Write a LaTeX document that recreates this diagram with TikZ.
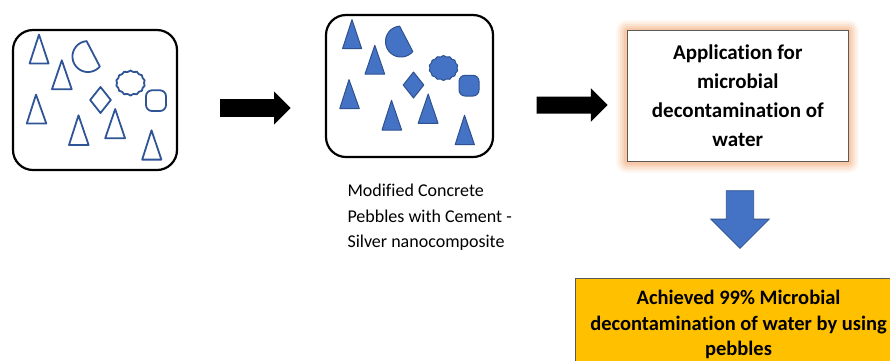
\documentclass[tikz,border=0pt]{standalone}
\usepackage{fontspec}
\setmainfont{Carlito}[Ligatures=NoCommon]
\usetikzlibrary{shapes.symbols,shapes.arrows,backgrounds}
\definecolor{pblue}{HTML}{4472C4}
\definecolor{pbluedark}{HTML}{2F528F}
\definecolor{poutline}{HTML}{2F5597}
\definecolor{glowcol}{HTML}{F4B183}
\definecolor{goldfill}{HTML}{FFC000}
\definecolor{boxgray}{HTML}{595959}
\tikzset{
  pebblebox/.style={draw=black, line width=2.2pt, rounded corners=20pt, fill=white, inner sep=0pt, outer sep=0pt},
  outlined/.style={draw=poutline, line width=1.8pt, fill=white, line join=round},
  filledblue/.style={draw=pbluedark, line width=1pt, fill=pblue, line join=round},
  blockarrow/.style={single arrow, single arrow head indent=0pt, inner xsep=0pt, outer sep=0pt, anchor=tail},
  pics/pebbles/.style={code={
    \tikzset{pebshape/.style={#1}}
    \path[pebshape] (26,4.6) -- (35.6,33.5) -- (16.6,33.5) -- cycle;
    \path[pebshape] (48.8,30.3) -- (58.7,59.2) -- (39,59.2) -- cycle;
    \path[pebshape] (23,64.6) -- (33.3,93.5) -- (13.8,93.5) -- cycle;
    \path[pebshape] (65.5,85.3) -- (75.6,115) -- (56,115) -- cycle;
    \path[pebshape] (102.2,79) -- (112,108.3) -- (92.2,108.3) -- cycle;
    \path[pebshape] (138.5,100.3) -- (148.4,129.6) -- (129.2,129.6) -- cycle;
    \path[pebshape] (73.6,11.1) arc[start angle=95, end angle=320, radius=15.5pt] -- cycle;
    \path[pebshape] (87.5,57) -- (97.8,70) -- (87.5,83) -- (77.2,70) -- cycle;
    \path[pebshape, rounded corners=6pt] (133,60.3) rectangle (153,81);
    \node[pebshape, cloud, cloud puffs=14, cloud puff arc=110, aspect=1.1, minimum width=29pt, minimum height=25pt, inner sep=0pt] at (117.5,53) {};
  }}
}
\begin{document}
\begin{tikzpicture}[x=1pt,y=-1pt]
\useasboundingbox (0,0) rectangle (890,360);
\clip (0,0) rectangle (890,360);

% pebble boxes
\node[pebblebox, minimum width=164pt, minimum height=140pt] (box1) at (95,100) {};
\pic at (box1.north west) {pebbles=outlined};
\node[pebblebox, minimum width=167pt, minimum height=142pt] (box2) at (409.5,86) {};
\pic at (box2.north west) {pebbles=filledblue};

% caption
\node[anchor=north west, align=left, inner sep=0pt, font=\fontsize{18}{25.3}\selectfont] (cap) at (347.3,184) {Modified Concrete\\Pebbles with Cement -\\Silver nanocomposite};

% application box
\node[draw=boxgray, line width=0.9pt, fill=white, minimum width=221pt, minimum height=131pt, inner sep=0pt, outer sep=0pt, align=center, font=\bfseries\fontsize{21}{29}\selectfont] (box3) at (737.8,96.2) {\raisebox{2.5pt}{\parbox{215pt}{\centering Application for\\microbial\\decontamination of\\water}}};
\begin{scope}[on background layer]
  \foreach \w/\o in {22/0.1,18/0.13,14/0.18,10/0.25,6/0.35}
    \draw[glowcol, line width=\w pt, opacity=\o, line join=round] (box3.north west) rectangle (box3.south east);
\end{scope}

% result box
\node[draw=boxgray, line width=0.9pt, fill=goldfill, minimum width=327pt, minimum height=92pt, inner sep=0pt, align=center, font=\bfseries\fontsize{20.5}{25.5}\selectfont] (box4) at (738.5,324.5) {Achieved 99\% Microbial\\decontamination of water by using\\pebbles};

% block arrows
\node[blockarrow, fill=black, minimum height=70.7pt, inner ysep=8.7pt, single arrow head extend=7.6pt] (a1) at (220,108) {};
\node[blockarrow, fill=black, minimum height=71pt, inner ysep=8.3pt, single arrow head extend=8.4pt] (a2) at (536.7,105) {};
\node[blockarrow, fill=pblue, draw=pbluedark, line width=0.8pt, shape border rotate=270, minimum height=57.6pt, inner xsep=13.3pt, inner ysep=0pt, single arrow head extend=15.5pt] (a3) at (740,190.7) {};
\end{tikzpicture}
\end{document}
